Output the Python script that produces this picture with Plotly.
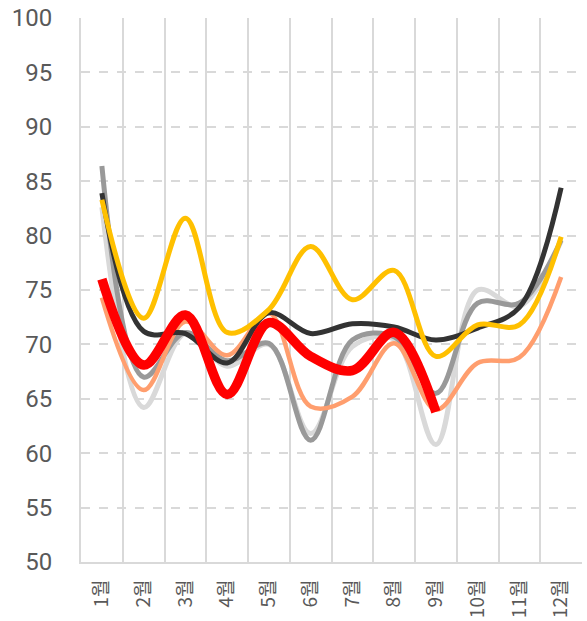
import plotly.graph_objects as go

months = ["1월", "2월", "3월", "4월", "5월", "6월", "7월", "8월", "9월", "10월", "11월", "12월"]
y_ticks = [50, 55, 60, 65, 70, 75, 80, 85, 90, 95, 100]

light_gray = [82.6, 64.2, 71.0, 68.0, 70.0, 61.8, 69.8, 70.5, 60.8, 75.0, 73.5, 79.5]
mid_gray = [86.4, 67.0, 71.1, 68.5, 70.1, 61.2, 70.4, 70.7, 65.5, 73.8, 73.8, 79.6]
salmon = [74.3, 65.8, 72.1, 69.0, 72.9, 64.3, 65.2, 70.1, 64.0, 68.3, 68.8, 76.2]
black = [83.9, 71.2, 71.0, 68.3, 72.9, 71.0, 71.9, 71.6, 70.4, 71.5, 73.4, 84.4]
yellow = [83.3, 72.4, 81.6, 71.1, 73.2, 79.0, 74.1, 76.8, 68.9, 71.8, 71.8, 79.9]
red = [76.0, 68.1, 72.7, 65.4, 72.0, 68.9, 67.6, 71.1, 63.8]

series = [
    (light_gray, "#d9d9d9", 5),
    (mid_gray, "#999999", 5),
    (salmon, "#ff9e6e", 4.5),
    (black, "#333333", 5),
    (yellow, "#ffc000", 5),
    (red, "#ff0000", 9.5),
]

x_pos = list(range(len(months)))

fig = go.Figure()
for vals, color, width in series:
    fig.add_trace(go.Scatter(
        x=x_pos[:len(vals)], y=vals, mode="lines",
        line=dict(color=color, width=width, shape="spline", smoothing=1.0),
        showlegend=False, hoverinfo="skip",
    ))

font_family = "Roboto, Noto Sans CJK KR, sans-serif"

fig.update_layout(
    width=587, height=621,
    margin=dict(l=81, r=5, t=18, b=59),
    paper_bgcolor="white", plot_bgcolor="white",
    font=dict(family=font_family, color="#595959"),
    xaxis=dict(
        range=[-0.5, 11.5],
        tickmode="array", tickvals=x_pos, ticktext=months,
        tickangle=-90,
        tickfont=dict(size=19, family="Noto Sans CJK KR, sans-serif", color="#595959"),
        showgrid=False, zeroline=False,
        showline=True, linecolor="#d9d9d9", linewidth=2,
        ticks="", ticklabelstandoff=8,
        automargin=False,
        minor=dict(tickvals=[i - 0.5 for i in range(13)], showgrid=True,
                   gridcolor="#d9d9d9", gridwidth=2, ticks=""),
        fixedrange=True,
    ),
    yaxis=dict(
        range=[50, 100],
        tickmode="array", tickvals=y_ticks,
        tickfont=dict(size=24, family=font_family, color="#595959"),
        showgrid=True, gridcolor="#d9d9d9", gridwidth=2, griddash="dash",
        zeroline=False,
        showline=True, linecolor="#d9d9d9", linewidth=2,
        ticks="", ticklabelstandoff=22,
        automargin=False,
        fixedrange=True,
    ),
)

# remove the browser's default 8px body margin so the figure sits at the window's corner
fig.write_html("out.html", config={"displayModeBar": False},
               post_script="document.body.style.margin='0';")
